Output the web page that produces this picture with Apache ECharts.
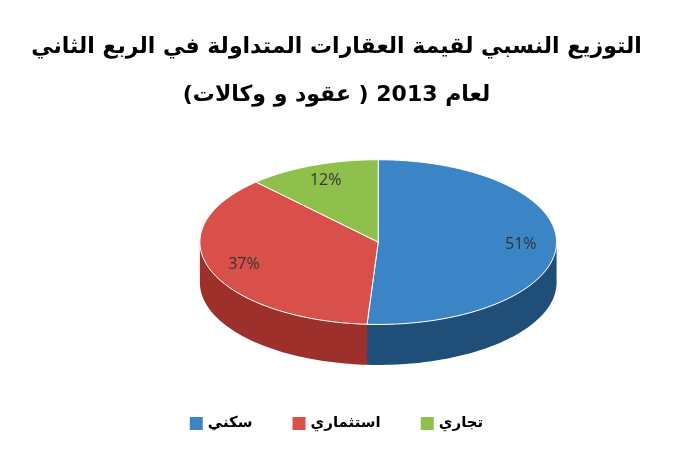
<!DOCTYPE html><html><head><meta charset="utf-8">
<script src="https://cdn.jsdelivr.net/npm/echarts@6/dist/echarts.min.js"></script>
<style>body{margin:0}#c{width:673px;height:450px}</style></head><body><div id="c"></div>
<script>
const categories=['سكني','استثماري','تجاري'];
const values=[51,37,12];
const colors=['#3b84c6','#d9504b','#8fc04c'];
const sideColors=['#1f4e79','#9e302c','#5e8a2c'];
const total=values.reduce((a,b)=>a+b,0);
const chart=echarts.init(document.getElementById('c'));
function geo(api){const w=api.getWidth(),h=api.getHeight();return{cx:w*0.562,cy:h*0.538,rx:w*0.265,ry:h*0.183,d:h*0.09};}
function pt(g,t,dy){return[g.cx+g.rx*Math.sin(t),g.cy-g.ry*Math.cos(t)+(dy||0)];}
function render(idx){return function(params,api){
 const g=geo(api);let s=0;for(let i=0;i<idx;i++)s+=values[i];
 const a=s/total*2*Math.PI,b=(s+values[idx])/total*2*Math.PI;
 const children=[];
 const lo=Math.max(a,Math.PI/2),hi=Math.min(b,Math.PI*1.5);
 if(hi>lo){const top=[],bot=[];const n=60;for(let k=0;k<=n;k++){const t=lo+(hi-lo)*k/n;top.push(pt(g,t));bot.push(pt(g,t,g.d));}
  children.push({type:'polygon',shape:{points:top.concat(bot.reverse())},style:{fill:sideColors[idx]}});}
 const pts=[[g.cx,g.cy]];const n=80;for(let k=0;k<=n;k++)pts.push(pt(g,a+(b-a)*k/n));
 children.push({type:'polygon',shape:{points:pts},style:{fill:colors[idx],stroke:'#fff',lineWidth:1}});
 const m=(a+b)/2,lp=[g.cx+g.rx*0.8*Math.sin(m),g.cy-g.ry*0.8*Math.cos(m)];
 children.push({type:'text',x:lp[0],y:lp[1],style:{text:values[idx]+'%',fill:'#333',font:'16px "Open Sans"',align:'center',verticalAlign:'middle'}});
 return{type:'group',children};}}
chart.setOption({
 animation:false,
 title:{text:'التوزيع النسبي لقيمة العقارات المتداولة في الربع الثاني\nلعام 2013 ( عقود و وكالات)',left:'center',top:18,
  textStyle:{fontFamily:'DejaVu Sans',fontWeight:'bold',fontSize:22,lineHeight:48,color:'#000'}},
 legend:{bottom:14,left:'center',icon:'rect',itemWidth:13,itemHeight:13,itemGap:40,data:categories,textStyle:{fontFamily:'DejaVu Sans',fontWeight:'bold',fontSize:15,color:'#000'}},
 series:categories.map((c,i)=>({type:'custom',name:c,coordinateSystem:'none',color:colors[i],data:[values[i]],renderItem:render(i)}))
});
</script></body></html>
